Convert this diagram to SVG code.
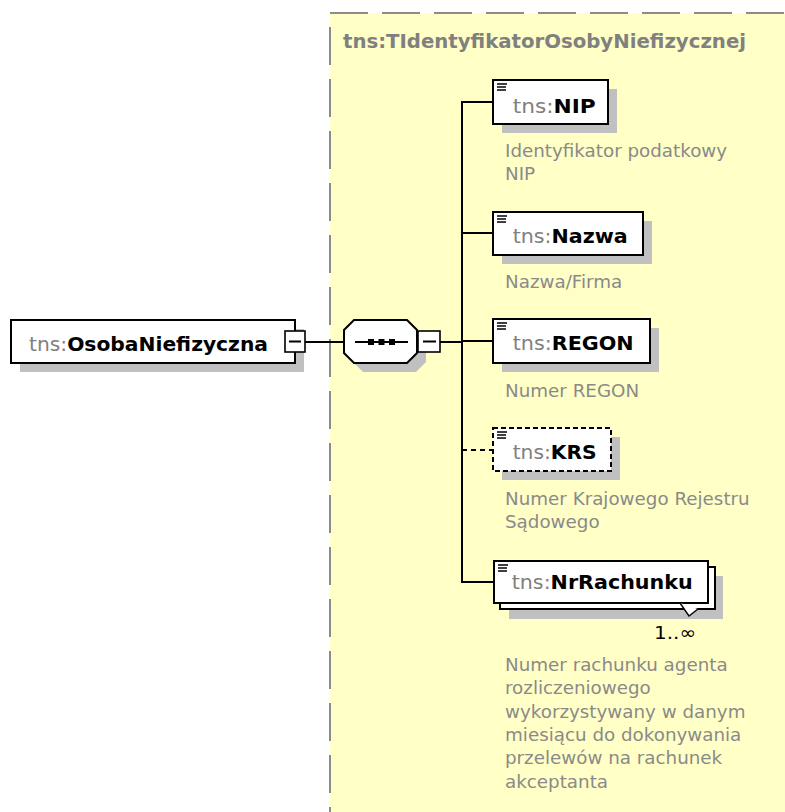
<svg xmlns="http://www.w3.org/2000/svg" width="785" height="812" viewBox="0 0 785 812">
<style>
.region{fill:#FFFFC6;stroke:#8c8c8c;stroke-width:2;stroke-dasharray:38 14}
.shadow{fill:#c0c0c0;stroke:none}
.box{fill:#fff;stroke:#000;stroke-width:2}
.dash{stroke-dasharray:5 3}
.line{stroke:#000;stroke-width:2;fill:none}
.icon{stroke:#000;stroke-width:1.4;fill:none}
.pm{fill:#fff;stroke:#000;stroke-width:1.6}
text{font-family:"DejaVu Sans","Liberation Sans",sans-serif}
.pre{fill:#808080}
.nm{fill:#000;font-weight:bold}
.lbl{font-size:20px}
.desc{font-size:18.3px;fill:#8a8a8a}
.title{font-size:19.6px;font-weight:bold;fill:#808080}
</style>
<defs>
<path id="ic" d="M0,0h10M0,3h9M0,6h9"/>
</defs>
<rect class="region" x="330" y="13" width="480" height="820"/>
<text class="title" x="343" y="48" textLength="403" lengthAdjust="spacingAndGlyphs">tns:TIdentyfikatorOsobyNiefizycznej</text>

<g id="connectors">
<line class="line" x1="305" y1="342" x2="344" y2="342"/>
<line class="line" x1="440" y1="342" x2="462" y2="342"/>
<line class="line" x1="462" y1="101" x2="462" y2="583"/>
<line class="line" x1="462" y1="102" x2="493" y2="102"/>
<line class="line" x1="462" y1="233" x2="493" y2="233"/>
<line class="line" x1="462" y1="341" x2="493" y2="341"/>
<line class="line" x1="462" y1="450" x2="493" y2="450" stroke-dasharray="5 4"/>
<line class="line" x1="462" y1="582" x2="494" y2="582"/>
</g>

<g id="OsobaNiefizyczna">
<rect class="shadow" x="20" y="329" width="284" height="43"/>
<rect class="box" x="11" y="320" width="284" height="43"/>
<text class="lbl" x="29" y="351" textLength="239" lengthAdjust="spacingAndGlyphs"><tspan class="pre">tns:</tspan><tspan class="nm">OsobaNiefizyczna</tspan></text>
<rect class="pm" x="285" y="331" width="20" height="21"/>
<line class="line" x1="289" y1="341.5" x2="301" y2="341.5" stroke-width="1.6"/>
</g>

<g id="sequence">
<polygon class="shadow" points="363,329 416,329 426,339 426,362 416,372 363,372 353,362 353,339"/>
<polygon class="box" points="354,320 407,320 417,330 417,353 407,363 354,363 344,353 344,330"/>
<line class="line" x1="355" y1="342" x2="408" y2="342"/>
<rect x="368" y="339" width="6" height="6" fill="#000"/>
<rect x="378.5" y="339" width="6" height="6" fill="#000"/>
<rect x="389" y="339" width="6" height="6" fill="#000"/>
<rect class="pm" x="418" y="331" width="22" height="21"/>
<line class="line" x1="423" y1="341.5" x2="436" y2="341.5" stroke-width="1.6"/>
</g>

<g id="NIP">
<rect class="shadow" x="502" y="89" width="115" height="44"/>
<rect class="box" x="493" y="80" width="115" height="44"/>
<use href="#ic" class="icon" x="497" y="84"/>
<text class="lbl" x="512.7" y="113" textLength="83" lengthAdjust="spacingAndGlyphs"><tspan class="pre">tns:</tspan><tspan class="nm">NIP</tspan></text>
<text class="desc" x="505" y="157">Identyfikator podatkowy</text>
<text class="desc" x="505" y="180">NIP</text>
</g>

<g id="Nazwa">
<rect class="shadow" x="502" y="221" width="150" height="43"/>
<rect class="box" x="493" y="212" width="150" height="43"/>
<use href="#ic" class="icon" x="497" y="216"/>
<text class="lbl" x="512.7" y="243" textLength="115" lengthAdjust="spacingAndGlyphs"><tspan class="pre">tns:</tspan><tspan class="nm">Nazwa</tspan></text>
<text class="desc" x="505" y="288">Nazwa/Firma</text>
</g>

<g id="REGON">
<rect class="shadow" x="502" y="328" width="157" height="44"/>
<rect class="box" x="493" y="319" width="157" height="44"/>
<use href="#ic" class="icon" x="497" y="323"/>
<text class="lbl" x="512.7" y="350" textLength="121" lengthAdjust="spacingAndGlyphs"><tspan class="pre">tns:</tspan><tspan class="nm">REGON</tspan></text>
<text class="desc" x="505" y="397">Numer REGON</text>
</g>

<g id="KRS">
<rect class="shadow" x="502" y="437" width="118" height="43"/>
<rect class="box dash" x="493" y="428" width="118" height="43"/>
<use href="#ic" class="icon" x="497" y="432"/>
<text class="lbl" x="512.7" y="459" textLength="84" lengthAdjust="spacingAndGlyphs"><tspan class="pre">tns:</tspan><tspan class="nm">KRS</tspan></text>
<text class="desc" x="505" y="505">Numer Krajowego Rejestru</text>
<text class="desc" x="505" y="528">Sądowego</text>
</g>

<g id="NrRachunku">
<rect class="shadow" x="509" y="576" width="214" height="43"/>
<rect class="box" x="500" y="567" width="215" height="42"/>
<rect class="box" x="494" y="561" width="214" height="42"/>
<polyline points="680,603 689,616 698,609" fill="#fff" stroke="#000" stroke-width="1.4"/>
<use href="#ic" class="icon" x="498" y="565"/>
<text class="lbl" x="511.7" y="589" textLength="181" lengthAdjust="spacingAndGlyphs"><tspan class="pre">tns:</tspan><tspan class="nm">NrRachunku</tspan></text>
<text x="654" y="639" font-size="18.3" fill="#000" textLength="42" lengthAdjust="spacingAndGlyphs">1..∞</text>
<text class="desc" x="505" y="671">Numer rachunku agenta</text>
<text class="desc" x="505" y="694">rozliczeniowego</text>
<text class="desc" x="505" y="718">wykorzystywany w danym</text>
<text class="desc" x="505" y="741">miesiącu do dokonywania</text>
<text class="desc" x="505" y="764">przelewów na rachunek</text>
<text class="desc" x="505" y="788">akceptanta</text>
</g>
</svg>
